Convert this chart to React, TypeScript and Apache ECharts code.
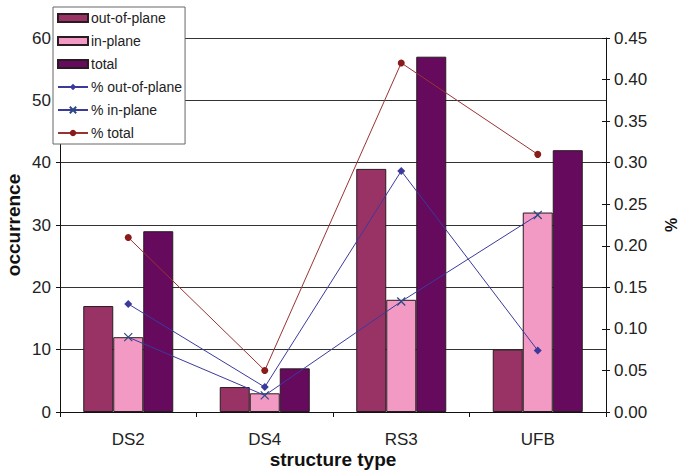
import React, { useEffect, useRef } from "react";
import * as echarts from "echarts";

const categories = ["DS2", "DS4", "RS3", "UFB"];
const outOfPlane = [17, 4, 39, 10];
const inPlane = [12, 3, 18, 32];
const total = [29, 7, 57, 42];
const pctOutOfPlane = [0.13, 0.03, 0.29, 0.074];
const pctInPlane = [0.09, 0.02, 0.133, 0.237];
const pctTotal = [0.21, 0.05, 0.42, 0.31];

const FONT = "'Liberation Sans', Arial, Helvetica, sans-serif";
const X_MARK = "path://M0,0L10,10M10,0L0,10";

export default function App() {
  const ref = useRef<HTMLDivElement>(null);

  useEffect(() => {
    if (!ref.current) return;
    const chart = echarts.init(ref.current, undefined, { renderer: "svg" });
    const barStyle = (color: string) => ({
      color,
      borderColor: "#2a1a22",
      borderWidth: 1,
    });
    const nameStyle = (size: number) => ({
      fontSize: size,
      fontWeight: "bold",
      color: "#111111",
      fontFamily: FONT,
    });
    chart.setOption({
      animation: false,
      backgroundColor: "#ffffff",
      textStyle: { fontFamily: FONT },
      grid: {
        left: 60,
        right: 73,
        top: 38,
        bottom: 59,
        containLabel: false,
        outerBoundsMode: "none",
      },
      legend: {
        orient: "vertical",
        left: 53,
        top: 7,
        padding: [4, 3, 4, 4],
        itemGap: 9,
        itemWidth: 30,
        itemHeight: 8,
        backgroundColor: "#ffffff",
        borderColor: "#666666",
        borderWidth: 1,
        textStyle: { fontFamily: FONT, fontSize: 14, color: "#222222", padding: [0, 0, 0, -2] },
        data: [
          { name: "out-of-plane", icon: "rect" },
          { name: "in-plane", icon: "rect" },
          { name: "total", icon: "rect" },
          { name: "% out-of-plane" },
          { name: "% in-plane" },
          { name: "% total" },
        ],
      },
      xAxis: {
        type: "category",
        data: categories,
        axisLine: { lineStyle: { color: "#111111", width: 1 } },
        axisTick: { show: true, length: 5, lineStyle: { color: "#111111" } },
        axisLabel: { fontSize: 17, color: "#222222", margin: 19, fontFamily: FONT },
        name: "structure type",
        nameLocation: "middle",
        nameGap: 38,
        nameMoveOverlap: false,
        nameTextStyle: nameStyle(19),
      },
      yAxis: [
        {
          type: "value",
          min: 0,
          max: 60,
          interval: 10,
          position: "left",
          axisLine: { show: true, lineStyle: { color: "#111111" } },
          axisTick: { show: true, length: 4, lineStyle: { color: "#111111" } },
          axisLabel: { fontSize: 17, color: "#222222", margin: 9, fontFamily: FONT },
          splitLine: { show: true, lineStyle: { color: "#333333", width: 1 } },
          name: "occurrence",
          nameLocation: "middle",
          nameRotate: 90,
          nameGap: 37,
          nameMoveOverlap: false,
          nameTextStyle: nameStyle(19),
        },
        {
          type: "value",
          min: 0,
          max: 0.45,
          interval: 0.05,
          position: "right",
          axisLine: { show: true, lineStyle: { color: "#111111" } },
          axisTick: { show: true, length: 4, lineStyle: { color: "#111111" } },
          axisLabel: {
            fontSize: 17,
            color: "#222222",
            margin: 8,
            fontFamily: FONT,
            formatter: (v: number) => v.toFixed(2),
          },
          splitLine: { show: false },
          name: "%",
          nameLocation: "middle",
          nameRotate: 90,
          nameGap: 57,
          nameMoveOverlap: false,
          nameTextStyle: nameStyle(16),
        },
        {
          type: "value",
          min: 0,
          max: 0.45,
          interval: 0.05,
          position: "right",
          axisLine: { show: false },
          axisTick: { show: true, inside: true, length: 4, lineStyle: { color: "#111111" } },
          axisLabel: { show: false },
          splitLine: { show: false },
        },
      ],
      series: [
        {
          name: "out-of-plane",
          type: "bar",
          data: outOfPlane,
          barWidth: 30,
          barGap: "0%",
          itemStyle: barStyle("#993366"),
        },
        {
          name: "in-plane",
          type: "bar",
          data: inPlane,
          barWidth: 30,
          barGap: "0%",
          itemStyle: barStyle("#f39ac4"),
        },
        {
          name: "total",
          type: "bar",
          data: total,
          barWidth: 30,
          barGap: "0%",
          itemStyle: barStyle("#660a5e"),
        },
        {
          name: "% out-of-plane",
          type: "line",
          yAxisIndex: 1,
          data: pctOutOfPlane,
          symbol: "diamond",
          symbolSize: 8,
          lineStyle: { color: "#3b3a9c", width: 1 },
          itemStyle: { color: "#3b3a9c" },
          z: 5,
        },
        {
          name: "% in-plane",
          type: "line",
          yAxisIndex: 1,
          data: pctInPlane,
          symbol: X_MARK,
          symbolSize: 8,
          lineStyle: { color: "#3b3a9c", width: 1 },
          itemStyle: { color: "#2b4a80", borderColor: "#2b4a80", borderWidth: 1.2 },
          z: 5,
        },
        {
          name: "% total",
          type: "line",
          yAxisIndex: 1,
          data: pctTotal,
          symbol: "circle",
          symbolSize: 7,
          lineStyle: { color: "#993333", width: 1 },
          itemStyle: { color: "#8b1a1a" },
          z: 5,
        },
      ],
    });
    return () => chart.dispose();
  }, []);

  return (
    <div
      ref={ref}
      style={{ position: "fixed", left: 0, top: 0, width: 679, height: 471, background: "#fff" }}
    />
  );
}
